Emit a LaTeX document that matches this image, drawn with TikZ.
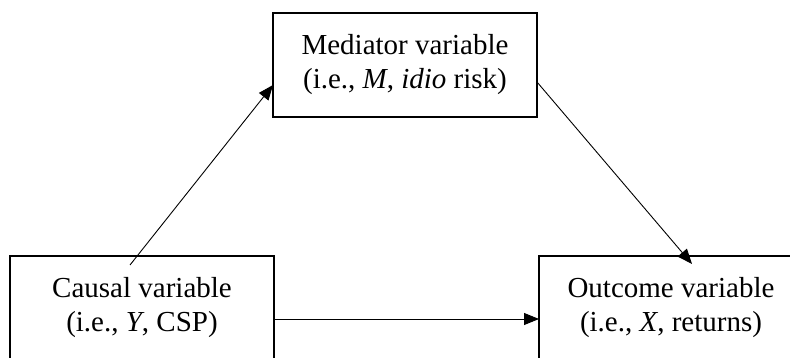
\documentclass[tikz,border=0pt]{standalone}
\usepackage{fontspec}
\setmainfont{Liberation Serif}
\usetikzlibrary{arrows.meta}
\begin{document}
\begin{tikzpicture}[x=1pt,y=-1pt,
  varbox/.style={draw, line width=1.8pt, minimum width=264pt, minimum height=104pt,
    outer sep=0pt, inner sep=0pt, align=center,
    font=\fontsize{29pt}{34pt}\selectfont},
  arr/.style={line width=0.9pt, -{Triangle[length=15pt,width=12pt]}}]
\clip (0,0) rectangle (790,358);
\fill[white] (0,0) rectangle (790,358);
\node[varbox] (med) at (405,65) {Mediator variable\\(i.e., \textit{M}, \textit{idio} risk)};
\node[varbox] (cau) at (142,308) {Causal variable\\(i.e., \textit{Y}, CSP)};
\node[varbox] (out) at (671,308) {Outcome variable\\(i.e., \textit{X}, returns)};
\coordinate (c1) at (130,265);
\draw[arr] (c1) -- ([yshift=-20pt]med.west);
\draw[arr] ([yshift=-17pt]med.east) -- ([xshift=21pt,yshift=-8pt]out.north);
\draw[arr] ([yshift=-11pt]cau.east) -- ([yshift=-11pt]out.west);
\end{tikzpicture}
\end{document}
